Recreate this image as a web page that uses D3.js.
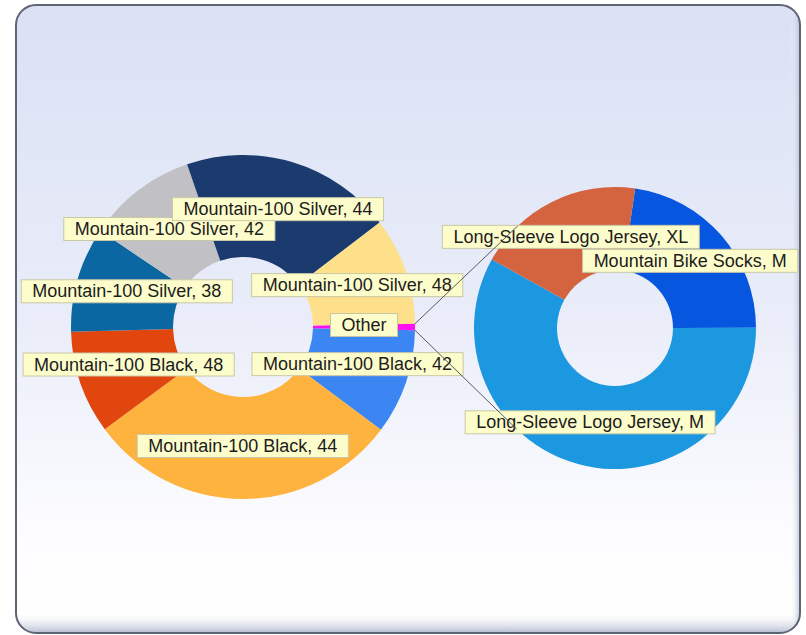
<!DOCTYPE html>
<html>
<head>
	<title>pie of doughnut</title>
	<script src="https://d3js.org/d3.v7.min.js"></script>
	<style>
		body { margin: 0; background: #ffffff; }
		svg { display: block; }
	</style>
</head>
<body>
	<svg id="chart" width="806" height="635"></svg>
	<script type="text/javascript">

		// main doughnut (share of sales)
		var mainNames = ['Mountain-100 Black, 42', 'Mountain-100 Black, 44', 'Mountain-100 Black, 48',
			'Mountain-100 Silver, 38', 'Mountain-100 Silver, 42', 'Mountain-100 Silver, 44',
			'Mountain-100 Silver, 48', 'Other'];
		var mainValues = [9.9, 29.7, 9.7, 9.9, 10.3, 19.9, 10.1, 0.6];
		var mainColors = ['#3b86f2', '#feb33f', '#e1460f', '#0b67a1', '#c1c1c5', '#1b3a6e', '#fedf8a', '#ff10f0'];

		// the "Other" slice broken out
		var otherNames = ['Mountain Bike Socks, M', 'Long-Sleeve Logo Jersey, M', 'Long-Sleeve Logo Jersey, XL'];
		var otherValues = [22.7, 58.1, 19.2];
		var otherColors = ['#0756df', '#1b98df', '#d3643f'];

		var W = 806, H = 635;
		var left = {x: 243, y: 327, r: 172, ri: 70};
		var right = {x: 615, y: 328, r: 141, ri: 58};

		var svg = d3.select('#chart');
		var defs = svg.append('defs');

		// panel background
		var bg = defs.append('linearGradient').attr('id', 'bg')
			.attr('x1', 0).attr('y1', 0).attr('x2', 0).attr('y2', 1);
		bg.append('stop').attr('offset', '0%').attr('stop-color', '#dae1f5');
		bg.append('stop').attr('offset', '50%').attr('stop-color', '#eaedf9');
		bg.append('stop').attr('offset', '85%').attr('stop-color', '#fdfdff');
		bg.append('stop').attr('offset', '100%').attr('stop-color', '#ffffff');

		var shadeB = defs.append('linearGradient').attr('id', 'shadeB')
			.attr('x1', 0).attr('y1', 0).attr('x2', 0).attr('y2', 1);
		shadeB.append('stop').attr('offset', '0%').attr('stop-color', '#ffffff').attr('stop-opacity', 0);
		shadeB.append('stop').attr('offset', '100%').attr('stop-color', '#9aa3c0').attr('stop-opacity', 0.8);

		var shadeR = defs.append('linearGradient').attr('id', 'shadeR')
			.attr('x1', 0).attr('y1', 0).attr('x2', 1).attr('y2', 0);
		shadeR.append('stop').attr('offset', '0%').attr('stop-color', '#ffffff').attr('stop-opacity', 0);
		shadeR.append('stop').attr('offset', '100%').attr('stop-color', '#aab2cc').attr('stop-opacity', 0.7);

		defs.append('clipPath').attr('id', 'panelClip')
			.append('rect').attr('x', 16).attr('y', 5).attr('width', 784).attr('height', 628).attr('rx', 20);

		svg.append('rect')
			.attr('x', 16).attr('y', 5).attr('width', 784).attr('height', 628).attr('rx', 20)
			.attr('fill', 'url(#bg)');

		var shade = svg.append('g').attr('clip-path', 'url(#panelClip)');
		shade.append('rect').attr('x', 16).attr('y', 612).attr('width', 784).attr('height', 22).attr('fill', 'url(#shadeB)');
		shade.append('rect').attr('x', 790).attr('y', 5).attr('width', 10).attr('height', 628).attr('fill', 'url(#shadeR)');

		svg.append('rect')
			.attr('x', 16).attr('y', 5).attr('width', 784).attr('height', 628).attr('rx', 20)
			.attr('fill', 'none').attr('stroke', '#5d6474').attr('stroke-width', 2);

		// main doughnut, "Other" centred at 3 o'clock
		var mainTotal = d3.sum(mainValues);
		var otherShare = mainValues[mainValues.length - 1] / mainTotal;
		var start = Math.PI / 2 + otherShare * Math.PI;
		var mainPie = d3.pie().sort(null).startAngle(start).endAngle(start + 2 * Math.PI);
		var mainArcs = mainPie(mainValues);
		var mainArc = d3.arc().innerRadius(left.ri).outerRadius(left.r);
		var mainMid = d3.arc().innerRadius((left.r + left.ri) / 2).outerRadius((left.r + left.ri) / 2);

		var gL = svg.append('g').attr('transform', 'translate(' + left.x + ',' + left.y + ')');
		gL.selectAll('path')
			.data(mainArcs)
			.enter().append('path')
			.attr('d', mainArc)
			.attr('fill', (d, i) => mainColors[i]);

		// secondary doughnut
		var a0 = 8.2 * Math.PI / 180;
		var otherPie = d3.pie().sort(null).startAngle(a0).endAngle(a0 + 2 * Math.PI);
		var otherArcs = otherPie(otherValues);
		var otherArc = d3.arc().innerRadius(right.ri).outerRadius(right.r);
		var otherMid = d3.arc().innerRadius((right.r + right.ri) / 2).outerRadius((right.r + right.ri) / 2);

		var gR = svg.append('g').attr('transform', 'translate(' + right.x + ',' + right.y + ')');
		gR.selectAll('path')
			.data(otherArcs)
			.enter().append('path')
			.attr('d', otherArc)
			.attr('fill', (d, i) => otherColors[i]);

		// data labels
		function addLabels(g, arcs, names, mid) {
			var lab = g.selectAll('g.lab')
				.data(arcs)
				.enter().append('g')
				.attr('class', 'lab')
				.attr('transform', d => 'translate(' + mid.centroid(d) + ')');
			lab.append('rect')
				.attr('fill', '#fdfdcc')
				.attr('stroke', '#c9c8a6')
				.attr('stroke-width', 1);
			lab.append('text')
				.attr('text-anchor', 'middle')
				.attr('y', 4)
				.attr('font-family', 'Liberation Sans, Arial, sans-serif')
				.attr('font-size', 18)
				.attr('fill', '#1c1c1c')
				.text((d, i) => names[i]);
			lab.each(function() {
				var t = d3.select(this).select('text').node();
				var w = t.getComputedTextLength() + 22;
				d3.select(this).select('rect')
					.attr('x', -w / 2).attr('y', -13.5)
					.attr('width', w).attr('height', 23);
			});
		}
		addLabels(gL, mainArcs, mainNames, mainMid);
		addLabels(gR, otherArcs, otherNames, otherMid);

		// connector lines from "Other" to tangents of the second doughnut
		var oth = mainArcs[mainArcs.length - 1];
		function edge(a) {
			return [left.x + left.r * Math.sin(a), left.y - left.r * Math.cos(a)];
		}
		function tangent(p, sign) {
			var dx = p[0] - right.x, dy = p[1] - right.y;
			var d = Math.sqrt(dx * dx + dy * dy);
			var phi = Math.atan2(dy, dx) + sign * Math.acos(right.r / d);
			return [right.x + right.r * Math.cos(phi), right.y + right.r * Math.sin(phi)];
		}
		var pTop = edge(oth.startAngle), pBot = edge(oth.endAngle);
		var lines = [[pTop, tangent(pTop, 1)], [pBot, tangent(pBot, -1)]];
		svg.selectAll('line.conn')
			.data(lines)
			.enter().append('line')
			.attr('class', 'conn')
			.attr('x1', d => d[0][0]).attr('y1', d => d[0][1])
			.attr('x2', d => d[1][0]).attr('y2', d => d[1][1])
			.attr('stroke', '#5a5a5a')
			.attr('stroke-width', 1);

	</script>
</body>
</html>
